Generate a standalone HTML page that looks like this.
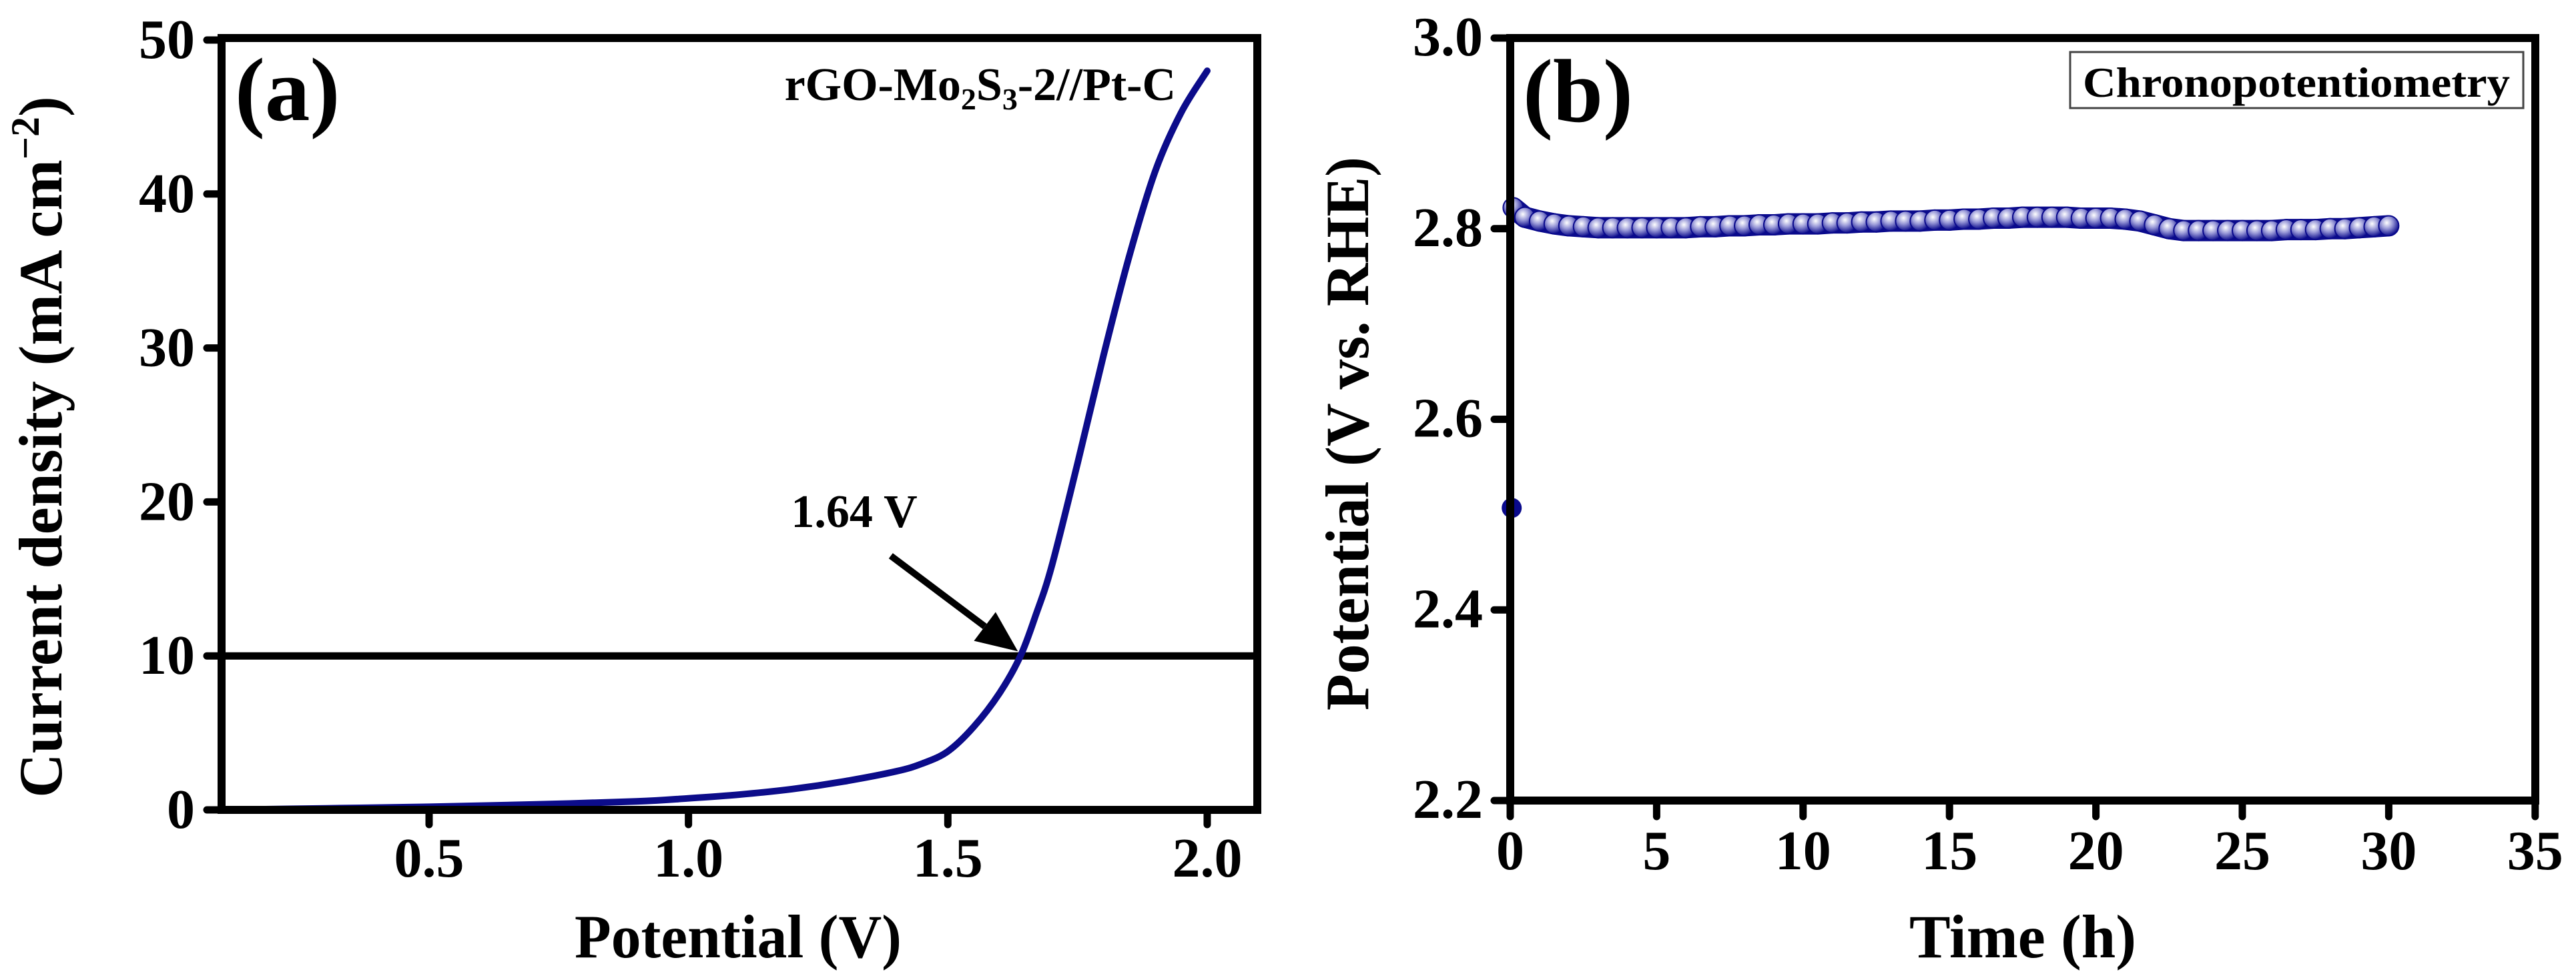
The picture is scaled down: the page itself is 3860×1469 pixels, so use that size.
<!DOCTYPE html>
<html><head><meta charset="utf-8"><style>
html,body{margin:0;padding:0;background:#fff;}
svg{display:block;font-family:"Liberation Serif",serif;font-weight:bold;}
</style></head><body>
<svg id="fig" width="3860" height="1469" viewBox="0 0 3860 1469" xmlns="http://www.w3.org/2000/svg">
<defs>
<radialGradient id="mk" cx="40%" cy="35%" r="65%">
<stop offset="0" stop-color="#ffffff"/><stop offset="0.45" stop-color="#9a9ad8"/><stop offset="1" stop-color="#0a0a8c"/>
</radialGradient>
</defs>
<g id="pa"></g>
<g id="pb"></g>
</svg>
<script>
// Panel (a) data
const aPotential = [0.10,0.30,0.50,0.70,0.90,1.00,1.10,1.20,1.30,1.40,1.45,1.50,1.55,1.60,1.64,1.67,1.70,1.75,1.80,1.85,1.90,1.95,2.00];
const aCurrent   = [0.00,0.10,0.20,0.35,0.55,0.75,1.00,1.35,1.85,2.50,3.00,3.80,5.40,7.60,10.0,12.7,15.8,22.5,29.5,36.0,41.5,45.3,48.0];
const aXTicks = [0.5,1.0,1.5,2.0];
const aXTickLabels = ["0.5","1.0","1.5","2.0"];
const aYTicks = [0,10,20,30,40,50];
const aYTickLabels = ["0","10","20","30","40","50"];
const aRefLevel = 10;
// Panel (b) data
const bTime = [0.1,0.5,1,1.5,2,2.5,3,3.5,4,4.5,5,5.5,6,6.5,7,7.5,8,8.5,9,9.5,10,10.5,11,11.5,12,12.5,13,13.5,14,14.5,15,15.5,16,16.5,17,17.5,18,18.5,19,19.5,20,20.5,21,21.5,22,22.5,23,23.5,24,24.5,25,25.5,26,26.5,27,27.5,28,28.5,29,29.5,30];
const bPotential = [2.822,2.812,2.808,2.805,2.803,2.802,2.801,2.801,2.801,2.801,2.801,2.801,2.801,2.802,2.802,2.803,2.803,2.804,2.804,2.805,2.805,2.805,2.806,2.806,2.807,2.807,2.808,2.808,2.808,2.809,2.809,2.810,2.810,2.811,2.811,2.812,2.812,2.812,2.812,2.811,2.811,2.811,2.810,2.808,2.804,2.800,2.798,2.798,2.798,2.798,2.798,2.798,2.798,2.799,2.799,2.799,2.800,2.800,2.801,2.802,2.803];
const bOutlierTime = [0.05];
const bOutlierPotential = [2.507];
const bXTicks = [0,5,10,15,20,25,30,35];
const bYTicks = [2.2,2.4,2.6,2.8,3.0];
const bYTickLabels = ["2.2","2.4","2.6","2.8","3.0"];

const NS="http://www.w3.org/2000/svg";
function mk(parent,tag,attrs,text){const e=document.createElementNS(NS,tag);for(const k in attrs)e.setAttribute(k,attrs[k]);if(text!==undefined)e.textContent=text;parent.appendChild(e);return e;}

// ---- Panel A ----
const pa=document.getElementById('pa');
const aL=332,aR=1884,aT=57,aB=1214;
const ax=v=>643+(v-0.5)*777.3;
const ay=v=>1214-v*23.08;
let e=mk(pa,'line',{x1:aL,x2:aR,y1:ay(aRefLevel),y2:ay(aRefLevel),stroke:'#000','stroke-width':11});


const P=aPotential.map((v,i)=>[ax(v),ay(aCurrent[i])]);
let d=`M${P[0][0]},${P[0][1]}`;
for(let i=0;i<P.length-1;i++){const p0=P[Math.max(i-1,0)],p1=P[i],p2=P[i+1],p3=P[Math.min(i+2,P.length-1)];
d+=` C${p1[0]+(p2[0]-p0[0])/6},${p1[1]+(p2[1]-p0[1])/6} ${p2[0]-(p3[0]-p1[0])/6},${p2[1]-(p3[1]-p1[1])/6} ${p2[0]},${p2[1]}`;}
e=mk(pa,'path',{d:d,fill:'none',stroke:'#0c0c8a','stroke-width':10,'stroke-linecap':'round','stroke-linejoin':'round'});


e=mk(pa,'rect',{x:aL,y:aT,width:aR-aL,height:aB-aT,fill:'none',stroke:'#000','stroke-width':12});


aXTicks.forEach((t,i)=>{
 const l=mk(pa,'line',{x1:ax(t),x2:ax(t),y1:aB,y2:aB+22,stroke:'#000','stroke-width':11,'stroke-linecap':'round'});
 
 
 const tx=mk(pa,'text',{x:ax(t),y:1314,'font-size':84,'text-anchor':'middle'},aXTickLabels[i]);
 
 
});
aYTicks.forEach((t,i)=>{
 const l=mk(pa,'line',{x1:aL-22,x2:aL,y1:ay(t),y2:ay(t),stroke:'#000','stroke-width':11,'stroke-linecap':'round'});
 
 
 const tx=mk(pa,'text',{x:292,y:ay(t)+27,'font-size':84,'text-anchor':'end'},aYTickLabels[i]);
 
 
});
// arrow
const x1=ax(1.39),y1=ay(16.5),x2=ax(1.635),y2=ay(10.3);
const ang=Math.atan2(y2-y1,x2-x1),hl=62,hw=27;
const bx0=x2-hl*Math.cos(ang),by0=y2-hl*Math.sin(ang);
e=mk(pa,'line',{x1:x1,y1:y1,x2:bx0,y2:by0,stroke:'#000','stroke-width':10});


e=mk(pa,'polygon',{points:`${x2},${y2} ${bx0+hw*Math.sin(ang)},${by0-hw*Math.cos(ang)} ${bx0-hw*Math.sin(ang)},${by0+hw*Math.cos(ang)}`,fill:'#000'});


</script>
<script>
(function(){
const pa=document.getElementById('pa');
pa.insertAdjacentHTML('beforeend',`
<text x="1280" y="790" font-size="70" text-anchor="middle">1.64 V</text>
<text x="352" y="180" font-size="135">(a)</text>
<text x="1762" y="150" font-size="70" text-anchor="end">rGO-Mo<tspan font-size="46" dy="14">2</tspan><tspan dy="-14">S</tspan><tspan font-size="46" dy="14">3</tspan><tspan dy="-14">-2//Pt-C</tspan></text>
<text x="1106" y="1435" font-size="92" text-anchor="middle" textLength="490" lengthAdjust="spacingAndGlyphs">Potential (V)</text>
<text transform="translate(92,670) rotate(-90)" font-size="92" text-anchor="middle">Current density (mA cm<tspan font-size="60" dy="-34">−2</tspan><tspan dy="34">)</tspan></text>
`);
})();
</script>
<script>
(function(){
const pb=document.getElementById('pb');
const bL=2263,bR=3799,bT=57,bB=1200;
const bx=v=>bL+v*43.88;
const by=v=>bB-(v-2.2)*1428.75;
let e;
e=mk(pb,'polyline',{points:bTime.map((t,i)=>bx(t)+','+by(bPotential[i])).join(' '),fill:'none',stroke:'#0a0a8c','stroke-width':32,'stroke-linejoin':'round'});


bTime.forEach((t,i)=>{
 const c=mk(pb,'circle',{cx:bx(t),cy:by(bPotential[i]),r:15,fill:'url(#mk)',stroke:'#0a0a8c','stroke-width':2});
 
 
});
bOutlierTime.forEach((t,i)=>{
 const c=mk(pb,'circle',{cx:bx(t),cy:by(bOutlierPotential[i]),r:15,fill:'#0a0a8c'});
 
 
});
e=mk(pb,'rect',{x:bL,y:bT,width:bR-bL,height:bB-bT,fill:'none',stroke:'#000','stroke-width':12});


bXTicks.forEach(t=>{
 const l=mk(pb,'line',{x1:bx(t),x2:bx(t),y1:bB,y2:bB+24,stroke:'#000','stroke-width':11,'stroke-linecap':'round'});
 
 
 const tx=mk(pb,'text',{x:bx(t),y:1303,'font-size':84,'text-anchor':'middle'},String(t));
 
 
});
bYTicks.forEach((t,i)=>{
 const l=mk(pb,'line',{x1:bL-24,x2:bL,y1:by(t),y2:by(t),stroke:'#000','stroke-width':11,'stroke-linecap':'round'});
 
 
 const tx=mk(pb,'text',{x:2222,y:by(t)+26,'font-size':84,'text-anchor':'end'},bYTickLabels[i]);
 
 
});
pb.insertAdjacentHTML('beforeend',`
<text x="2282" y="182" font-size="135">(b)</text>
<rect x="3102" y="78" width="679" height="84" fill="#fff" stroke="#444" stroke-width="3"/>
<text x="3441" y="145" font-size="64" text-anchor="middle" textLength="640" lengthAdjust="spacingAndGlyphs">Chronopotentiometry</text>
<text x="3031" y="1435" font-size="92" text-anchor="middle" textLength="340" lengthAdjust="spacingAndGlyphs">Time (h)</text>
<text transform="translate(2050,650) rotate(-90)" font-size="92" text-anchor="middle" textLength="830" lengthAdjust="spacingAndGlyphs">Potential (V vs. RHE)</text>
`);
})();
</script>
</body></html>
